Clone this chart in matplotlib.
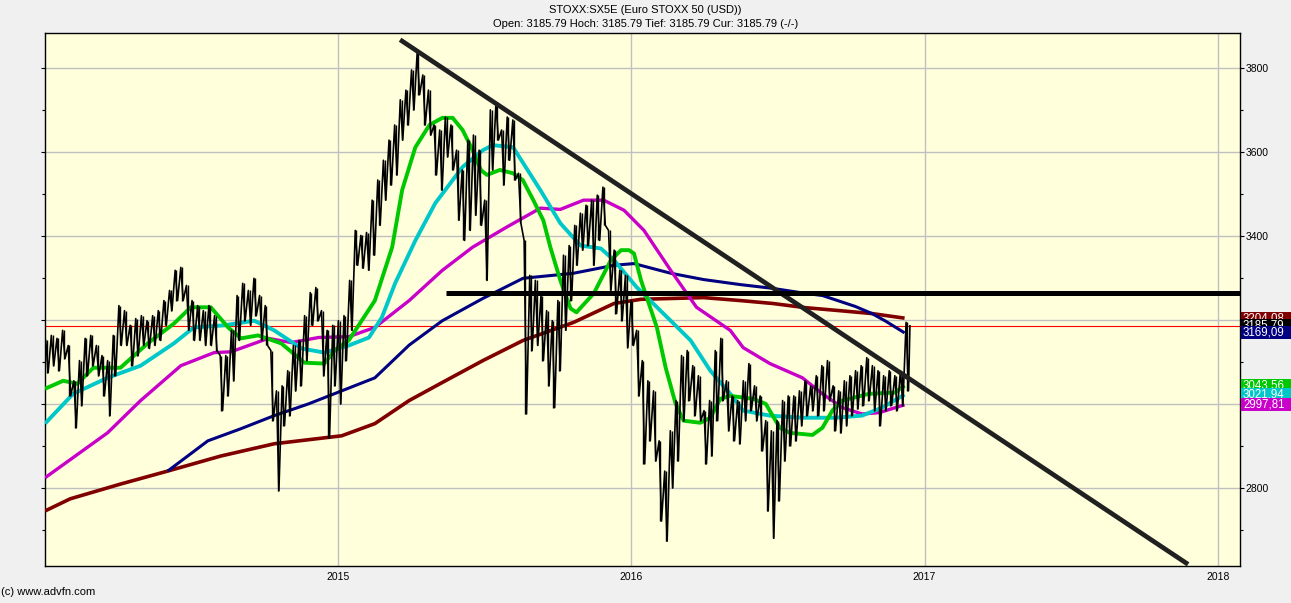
import numpy as np
import pandas as pd
import matplotlib
matplotlib.use("Agg")
import matplotlib.pyplot as plt
import matplotlib.transforms as mtransforms
from matplotlib.patches import Rectangle
from matplotlib.ticker import MultipleLocator

plt.rcParams['font.family'] = ['Liberation Sans', 'DejaVu Sans']

# ---------------- data ----------------
title_1 = "STOXX:SX5E (Euro STOXX 50 (USD))"
title_2 = "Open: 3185.79 Hoch: 3185.79 Tief: 3185.79 Cur: 3185.79 (-/-)"
footer = "(c) www.advfn.com"

week_start = "2014-01-03"
week_high = [3151, 3163, 3156, 3175, 3139, 3055, 3103, 3156, 3163, 3139,
             3115, 3103, 3163, 3234, 3222, 3187, 3203, 3210, 3198, 3210,
             3222, 3246, 3270, 3318, 3325, 3282, 3246, 3234, 3222, 3234,
             3210, 3115, 3115, 3175, 3258, 3287, 3270, 3299, 3258, 3234,
             3127, 3031, 3043, 3079, 3139, 3151, 3210, 3265, 3277, 3222,
             3175, 3187, 3198, 3210, 3294, 3413, 3401, 3408, 3485, 3533,
             3580, 3628, 3664, 3724, 3747, 3795, 3836, 3783, 3747, 3664,
             3652, 3683, 3664, 3604, 3557, 3628, 3640, 3604, 3485, 3700,
             3716, 3652, 3683, 3676, 3549, 3389, 3306, 3294, 3258, 3222,
             3198, 3246, 3354, 3377, 3425, 3454, 3473, 3485, 3497, 3516,
             3413, 3366, 3318, 3306, 3246, 3175, 3103, 3055, 3031, 2912,
             2840, 2936, 3008, 3115, 3127, 3091, 3067, 2984, 3008, 3127,
             3156, 3055, 3019, 3008, 3055, 3096, 3043, 3019, 2960, 2936,
             2960, 3008, 3019, 3019, 3031, 3055, 3043, 3067, 3091, 3103,
             3043, 3031, 3055, 3067, 3079, 3091, 3110, 3091, 3079, 3067,
             3079, 3067, 3079, 3194]
week_low = [3074, 3091, 3079, 3108, 3019, 2943, 2996, 3067, 3091, 3067,
            3019, 2972, 3067, 3139, 3139, 3091, 3115, 3139, 3132, 3139,
            3151, 3187, 3222, 3246, 3246, 3175, 3151, 3151, 3139, 3139,
            3127, 2984, 3019, 3055, 3151, 3198, 3187, 3210, 3151, 3139,
            2960, 2793, 2948, 2972, 3031, 3043, 3103, 3187, 3198, 3067,
            2919, 3043, 3000, 3103, 3175, 3330, 3323, 3318, 3354, 3425,
            3485, 3521, 3545, 3628, 3664, 3700, 3736, 3664, 3640, 3545,
            3509, 3588, 3557, 3437, 3389, 3413, 3449, 3425, 3294, 3557,
            3628, 3521, 3580, 3533, 3430, 2976, 3127, 3139, 3103, 3043,
            2991, 3079, 3175, 3246, 3330, 3366, 3377, 3330, 3389, 3425,
            3270, 3215, 3198, 3134, 3139, 3019, 2857, 2912, 2864, 2721,
            2673, 2800, 2864, 2960, 3008, 2972, 2960, 2857, 2876, 2960,
            3008, 2936, 2912, 2905, 2960, 2984, 2960, 2888, 2745, 2680,
            2769, 2864, 2900, 2912, 2948, 2972, 2984, 2972, 2984, 3008,
            2936, 2931, 2948, 2972, 2988, 2996, 3008, 2984, 2948, 2984,
            2996, 2984, 2996, 3031]
last_price = 3185.79

# moving averages (time in fractional years)
ma_green_t = [2014.003, 2014.065, 2014.113, 2014.168, 2014.260, 2014.353, 2014.442, 2014.500,
              2014.568, 2014.627, 2014.671, 2014.729, 2014.808, 2014.887, 2014.955, 2014.990,
              2015.038, 2015.082, 2015.127, 2015.186, 2015.220, 2015.265, 2015.313, 2015.357,
              2015.392, 2015.426, 2015.460, 2015.488, 2015.509, 2015.553, 2015.598, 2015.631,
              2015.667, 2015.701, 2015.725, 2015.759, 2015.794, 2015.814, 2015.873, 2015.931,
              2015.966, 2015.993, 2016.010, 2016.034, 2016.088, 2016.118, 2016.152, 2016.179,
              2016.236, 2016.270, 2016.304, 2016.338, 2016.416, 2016.459, 2016.507, 2016.541,
              2016.618, 2016.652, 2016.686, 2016.720, 2016.811, 2016.899, 2016.932]
ma_green_v = [3036, 3055, 3048, 3086, 3086, 3144, 3191, 3230,
              3230, 3182, 3156, 3163, 3144, 3098, 3096, 3127,
              3151, 3198, 3246, 3373, 3509, 3611, 3664, 3681,
              3681, 3652, 3604, 3557, 3545, 3557, 3549, 3533,
              3485, 3437, 3373, 3294, 3227, 3218, 3263, 3342,
              3366, 3366, 3358, 3294, 3182, 3086, 3000, 2960,
              2955, 2967, 3012, 3019, 3012, 3000, 2943, 2931,
              2926, 2943, 2984, 3008, 3024, 3027, 3043.56]

ma_cyan_t = [2014.003, 2014.099, 2014.216, 2014.329, 2014.442, 2014.510, 2014.613, 2014.716,
             2014.784, 2014.877, 2014.955, 2015.038, 2015.107, 2015.151, 2015.196, 2015.265,
             2015.333, 2015.426, 2015.495, 2015.529, 2015.598, 2015.691, 2015.759, 2015.828,
             2015.897, 2015.942, 2016.020, 2016.135, 2016.203, 2016.270, 2016.338, 2016.382,
             2016.473, 2016.584, 2016.696, 2016.787, 2016.855, 2016.932]
ma_cyan_v = [2953, 3024, 3062, 3091, 3144, 3182, 3187, 3198,
             3175, 3132, 3122, 3139, 3158, 3206, 3287, 3389,
             3478, 3564, 3604, 3616, 3611, 3509, 3430, 3377,
             3370, 3342, 3277, 3198, 3151, 3079, 3024, 2984,
             2972, 2967, 2967, 2972, 2991, 3021.94]

ma_magenta_t = [2014.003, 2014.216, 2014.329, 2014.466, 2014.579, 2014.637, 2014.764, 2014.842,
                2014.935, 2015.038, 2015.127, 2015.244, 2015.357, 2015.460, 2015.574, 2015.691,
                2015.759, 2015.838, 2015.907, 2015.976, 2016.044, 2016.135, 2016.223, 2016.338,
                2016.382, 2016.473, 2016.584, 2016.652, 2016.720, 2016.787, 2016.845, 2016.932]
ma_magenta_v = [2824, 2931, 3008, 3091, 3122, 3124, 3156, 3146,
                3158, 3160, 3182, 3246, 3318, 3373, 3420, 3466,
                3463, 3485, 3485, 3461, 3413, 3318, 3230, 3175,
                3134, 3096, 3062, 3024, 2991, 2976, 2979, 2997.81]

ma_navy_t = [2014.421, 2014.558, 2014.671, 2014.784, 2014.901, 2015.014, 2015.127, 2015.244,
             2015.357, 2015.495, 2015.632, 2015.804, 2015.942, 2016.010, 2016.135, 2016.247,
             2016.372, 2016.483, 2016.595, 2016.652, 2016.764, 2016.821, 2016.865, 2016.932]
ma_navy_v = [2840, 2912, 2941, 2972, 3000, 3031, 3062, 3140,
             3198, 3251, 3299, 3311, 3330, 3334, 3311, 3296,
             3284, 3275, 3263, 3258, 3232, 3215, 3198, 3169.09]

ma_darkred_t = [2014.003, 2014.089, 2014.260, 2014.421, 2014.603, 2014.784, 2015.014, 2015.127,
                2015.244, 2015.357, 2015.495, 2015.632, 2015.804, 2015.942, 2016.034, 2016.247,
                2016.372, 2016.483, 2016.595, 2016.710, 2016.821, 2016.932]
ma_darkred_v = [2745, 2774, 2809, 2840, 2876, 2905, 2924, 2953,
                3008, 3051, 3103, 3151, 3194, 3239, 3249, 3253,
                3246, 3239, 3229, 3222, 3215, 3204.08]

trend_t = [2015.213, 2017.898]
trend_v = [3867, 2618]
resist_t = [2015.368, 2018.075]
resist_v = [3265, 3265]

label_values = [3204.08, 3185.79, 3169.09, 3043.56, 3021.94, 2997.81]
label_texts = ["3204,08", "3185,79", "3169,09", "3043,56", "3021,94", "2997,81"]

year_ticks = [2015, 2016, 2017, 2018]
y_major = [2800, 3000, 3200, 3400, 3600, 3800]

# ---------------- styling ----------------
C_GREEN = "#00C800"
C_CYAN = "#00C8C8"
C_MAGENTA = "#C800C8"
C_NAVY = "#000080"
C_DARKRED = "#800000"
label_colors = [C_DARKRED, "#000000", C_NAVY, C_GREEN, C_CYAN, C_MAGENTA]

W, H = 1291, 603
fig = plt.figure(figsize=(W / 100, H / 100), dpi=100, facecolor="#F0F0F0")
ax = fig.add_axes([45 / W, 37 / H, 1195 / W, 533 / H])
ax.set_facecolor("#FFFFDC")
ax.set_xlim(2014.003, 2018.075)
ax.set_ylim(2614, 3883)

# grid / ticks
ax.set_yticks(y_major)
ax.set_yticklabels([str(v) for v in y_major])
ax.yaxis.set_minor_locator(MultipleLocator(100))
ax.set_xticks(year_ticks)
ax.set_xticklabels([str(y) for y in year_ticks])
ax.grid(True, which="major", color="#C0C0C0", linewidth=1.0, zorder=0)
ax.set_axisbelow(True)

ax.yaxis.tick_right()
ax.tick_params(axis="y", which="major", direction="out", length=3, width=0.8,
               labelsize=7.5, pad=1, left=True, right=True)
ax.tick_params(axis="y", which="minor", direction="out", length=2.5, width=0.8,
               left=True, right=True)
ax.tick_params(axis="x", which="major", length=0, labelsize=7.5, pad=4)
for s in ax.spines.values():
    s.set_color("black")
    s.set_linewidth(1.0)

# price (weekly high/low zigzag)
dates = pd.date_range(week_start, periods=len(week_high), freq="7D")
t_week = np.asarray(dates.year + (dates.dayofyear - 1) / np.where(dates.is_leap_year, 366, 365), dtype=float)
half = 3.0 / 365.25
xs = np.empty(2 * len(t_week))
ys = np.empty(2 * len(t_week))
xs[0::2] = t_week
xs[1::2] = t_week + half
ys[0::2] = week_high
ys[1::2] = week_low
xs = np.append(xs, t_week[-1] + 1.6 * half)
ys = np.append(ys, last_price)

# current price line
ax.axhline(last_price, color="#FF0000", linewidth=0.8, zorder=2)

ax.plot(ma_darkred_t, ma_darkred_v, color=C_DARKRED, linewidth=2.6, zorder=3, solid_capstyle="butt")
ax.plot(ma_navy_t, ma_navy_v, color=C_NAVY, linewidth=2.2, zorder=3.1, solid_capstyle="butt")
ax.plot(ma_magenta_t, ma_magenta_v, color=C_MAGENTA, linewidth=2.4, zorder=3.2, solid_capstyle="butt")
ax.plot(ma_cyan_t, ma_cyan_v, color=C_CYAN, linewidth=2.8, zorder=3.3, solid_capstyle="butt")
ax.plot(ma_green_t, ma_green_v, color=C_GREEN, linewidth=2.8, zorder=3.4, solid_capstyle="butt")

ax.vlines(t_week + half / 2, week_low, week_high, color="black", linewidth=1.0, zorder=4)
ax.plot(xs, ys, color="black", linewidth=1.2, zorder=4)

ax.plot(trend_t, trend_v, color="#202020", linewidth=3.4, zorder=5, solid_capstyle="butt")
ax.plot(resist_t, resist_v, color="black", linewidth=3.6, zorder=5, solid_capstyle="butt")

# right-side value labels (overlapping as in the original)
trans = mtransforms.blended_transform_factory(ax.transAxes, ax.transData)
box_h = 13 / (533 / (3883 - 2614))  # 13 px in data units
for i, (v, txt, col) in enumerate(zip(label_values, label_texts, label_colors)):
    z = 10 + i
    rect = Rectangle((1.0008, v - box_h / 2), 0.05, box_h, transform=trans,
                     facecolor=col, edgecolor="none", clip_on=False, zorder=z)
    ax.add_patch(rect)
    ax.text(1.0025, v, txt, transform=trans, ha="left", va="center", color="white",
            fontsize=8.3, clip_on=False, zorder=z + 0.5)

# titles
fig.text(0.5, 1 - 10 / H, title_1, ha="center", va="center", fontsize=8, color="black")
fig.text(0.5, 1 - 24 / H, title_2, ha="center", va="center", fontsize=8, color="black")
fig.text(1 / W, 11 / H, footer, ha="left", va="center", fontsize=8, color="black")

fig.savefig("out.png", dpi=100, facecolor=fig.get_facecolor())
